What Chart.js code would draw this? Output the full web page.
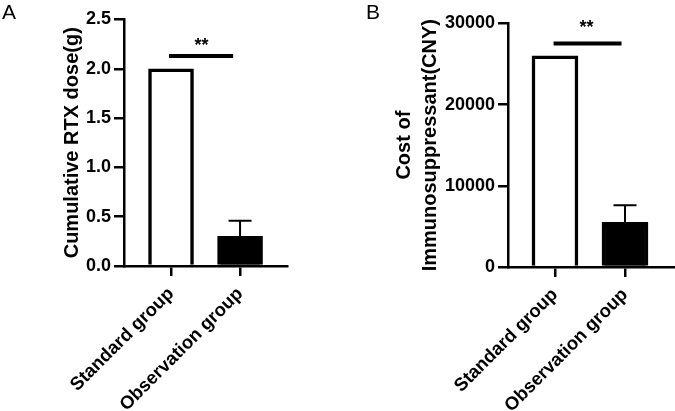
<!DOCTYPE html>
<html>
<head>
<meta charset="utf-8">
<script src="https://cdn.jsdelivr.net/npm/chart.js@4.4.0/dist/chart.umd.min.js"></script>
<style>
  html, body { margin: 0; padding: 0; background: #fff; }
  #wrap { position: relative; width: 675px; height: 411px; overflow: hidden; font-family: "Liberation Sans", Arial, sans-serif; }
  .panel { position: absolute; top: 0; }
  .letter { position: absolute; font-size: 21px; color: #000; line-height: 1; }
</style>
</head>
<body>
<div id="wrap">
  <canvas id="chartA" class="panel" style="left:0" width="340" height="411"></canvas>
  <canvas id="chartB" class="panel" style="left:340px" width="335" height="411"></canvas>
  <div class="letter" style="left:2px;top:1px">A</div>
  <div class="letter" style="left:366px;top:1px">B</div>
</div>
<script>
// Groups and their positions on the x axis
const groups = ['Standard group', 'Observation group'];
const groupPos = [1, 2];

// Panel A: cumulative RTX dose (g), mean and SD
const rtxMean = [2.0, 0.3];
const rtxSd = [0, 0.16];
const rtxTicks = [0, 0.5, 1.0, 1.5, 2.0, 2.5];
const rtxBracket = { from: 0.97, to: 1.9, y: 2.13, starX: 1.44, starY: 2.28, label: '**' };

// Panel B: cost of immunosuppressant (CNY), mean and SD
const costMean = [26000, 5500];
const costSd = [0, 2100];
const costTicks = [0, 10000, 20000, 30000];
const costBracket = { from: 0.98, to: 1.95, y: 27500, starX: 1.45, starY: 30000, label: '**' };

const FONT = '"Liberation Sans", Arial, sans-serif';

// Draw error bars and the significance bracket
const sigPlugin = {
    id: 'sigMarks',
    afterDatasetsDraw(chart, args, opts) {
        const { ctx, scales: { x, y } } = chart;
        ctx.save();
        ctx.strokeStyle = '#000';
        ctx.fillStyle = '#000';

        opts.mean.forEach((m, i) => {
            if (!opts.sd[i]) return;
            const px = x.getPixelForValue(groupPos[i]);
            const y0 = y.getPixelForValue(m);
            const y1 = y.getPixelForValue(m + opts.sd[i]);
            ctx.lineWidth = 2;
            ctx.beginPath();
            ctx.moveTo(px, y0);
            ctx.lineTo(px, y1);
            ctx.moveTo(px - 11.5, y1);
            ctx.lineTo(px + 11.5, y1);
            ctx.stroke();
        });

        const b = opts.bracket;
        const by = y.getPixelForValue(b.y);
        ctx.lineWidth = 4;
        ctx.beginPath();
        ctx.moveTo(x.getPixelForValue(b.from), by);
        ctx.lineTo(x.getPixelForValue(b.to), by);
        ctx.stroke();

        ctx.font = 'bold 18px ' + FONT;
        ctx.textAlign = 'center';
        ctx.textBaseline = 'alphabetic';
        ctx.fillText(b.label, x.getPixelForValue(b.starX), y.getPixelForValue(b.starY) + 10);
        ctx.restore();
    }
};

function makeChart(id, cfg) {
    const points = groupPos.map((p, i) => ({ x: p, y: cfg.mean[i] }));
    return new Chart(document.getElementById(id), {
        type: 'bar',
        data: {
            datasets: [{
                data: points,
                backgroundColor: ['#ffffff', '#000000'],
                borderColor: '#000',
                borderWidth: 3.5,
                borderSkipped: 'start',
                barThickness: cfg.barWidth
            }]
        },
        options: {
            responsive: false,
            animation: false,
            layout: { padding: { top: cfg.padTop, right: cfg.padRight, left: 0, bottom: 0 } },
            plugins: {
                legend: { display: false },
                tooltip: { enabled: false },
                sigMarks: { mean: cfg.mean, sd: cfg.sd, bracket: cfg.bracket }
            },
            scales: {
                x: {
                    type: 'linear',
                    offset: false,
                    min: cfg.xMin,
                    max: cfg.xMax,
                    afterBuildTicks: axis => { axis.ticks = groupPos.map(v => ({ value: v })); },
                    afterFit: axis => { axis.height = cfg.xHeight; },
                    ticks: {
                        autoSkip: false,
                        minRotation: 45,
                        maxRotation: 45,
                        padding: 7,
                        color: '#000',
                        font: { family: FONT, size: 18.5, weight: 'bold' },
                        callback: (v, i) => groups[i]
                    },
                    grid: { offset: false, drawOnChartArea: false, tickLength: 10, lineWidth: 2.5, color: '#000' },
                    border: { color: '#000', width: 2.5 }
                },
                y: {
                    min: cfg.ticks[0],
                    max: cfg.ticks[cfg.ticks.length - 1],
                    afterBuildTicks: axis => { axis.ticks = cfg.ticks.map(v => ({ value: v })); },
                    afterFit: axis => { axis.width = cfg.yWidth; },
                    ticks: {
                        padding: 3,
                        color: '#000',
                        font: { family: FONT, size: 18, weight: 'bold' },
                        callback: cfg.fmt
                    },
                    grid: { drawOnChartArea: false, tickLength: 10, lineWidth: 2.5, color: '#000' },
                    border: { color: '#000', width: 2.5 },
                    title: {
                        display: true,
                        text: cfg.title,
                        color: '#000',
                        font: { family: FONT, size: 20, weight: 'bold', lineHeight: 1.3 },
                        padding: { top: cfg.titlePad, bottom: 0 }
                    }
                }
            }
        },
        plugins: [sigPlugin]
    });
}

makeChart('chartA', {
    mean: rtxMean, sd: rtxSd, ticks: rtxTicks, bracket: rtxBracket,
    title: 'Cumulative RTX dose(g)',
    fmt: v => v.toFixed(1),
    xMin: 0.319, xMax: 2.68, barWidth: 45,
    padTop: 19.5, padRight: 53, yWidth: 124, xHeight: 145, titlePad: 59
});

makeChart('chartB', {
    mean: costMean, sd: costSd, ticks: costTicks, bracket: costBracket,
    title: ['Cost of', 'Immunosuppressant(CNY)'],
    fmt: v => String(v),
    xMin: 0.329, xMax: 2.714, barWidth: 46,
    padTop: 23.3, padRight: 0, yWidth: 168, xHeight: 144, titlePad: 51
});
</script>
</body>
</html>
